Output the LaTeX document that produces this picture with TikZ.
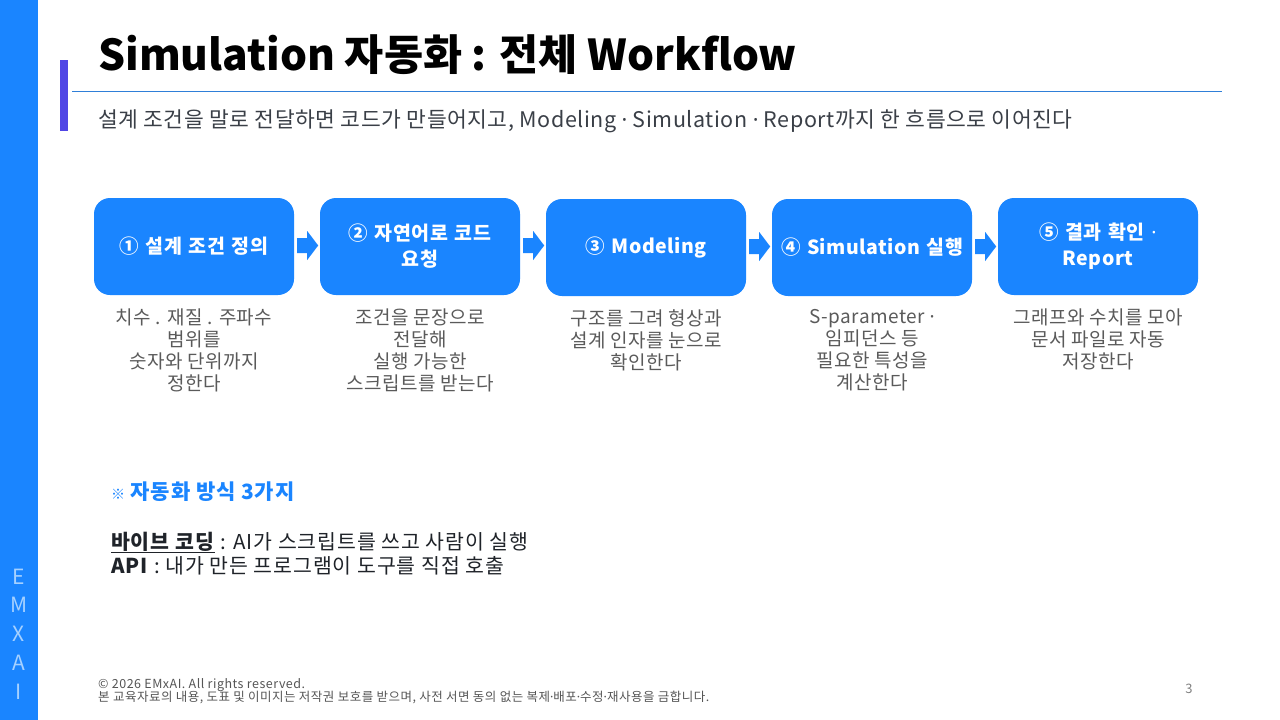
\documentclass[tikz,border=0pt]{standalone}
\usepackage{fontspec}
\setmainfont{Noto Sans CJK KR}
\newfontfamily\dotfont{Noto Sans}
\newcommand{\mdot}{{\dotfont ·}}
\usetikzlibrary{calc}
\definecolor{mainblue}{HTML}{1A85FF}
\definecolor{sidetext}{HTML}{A6D1FF}
\definecolor{accent}{HTML}{5046E5}
\definecolor{rulec}{HTML}{2F7FD8}
\definecolor{subgray}{HTML}{3A3F47}
\definecolor{descgray}{HTML}{5A5A5A}
\definecolor{darktext}{HTML}{1F2329}
\definecolor{footgray}{HTML}{555555}
\tikzset{
  stepbox/.style={fill=mainblue, rounded corners=16pt, minimum width=200pt, minimum height=97pt,
    text=white, font=\fontsize{19.5}{26}\selectfont\bfseries\addfontfeature{LetterSpace=2.5}, align=center, text width=192pt, inner sep=0pt},
  desc/.style={text=descgray, font=\fontsize{19}{22}\selectfont\addfontfeature{LetterSpace=2.5}, align=center, anchor=north, inner sep=0pt},
  flowarrow/.style={fill=mainblue},
  side/.style={text=sidetext, font=\fontsize{21}{21}\selectfont},
}
\begin{document}
\begin{tikzpicture}[x=1pt,y=-1pt]
\useasboundingbox (0,0) rectangle (1280,720);
\fill[white] (0,0) rectangle (1280,720);
% side bar
\fill[mainblue] (0,0) rectangle (38,720);
\foreach \ch/\yy in {E/577,M/605,X/634,A/663,I/692}{
  \node[side] (s\ch) at (19,\yy) {\ch};
}
% accent bar
\fill[accent] (60,60) rectangle (68,131);
% title
\node[anchor=base west, inner sep=0pt, font=\fontsize{42.5}{42.5}\selectfont\bfseries] (title) at (98,70) {Simulation 자동화 : 전체 Workflow};
\draw[rulec, line width=1pt] (72,91) -- (1222,91);
\node[anchor=base west, inner sep=0pt, text=subgray, font=\fontsize{21.5}{21.5}\selectfont\addfontfeature{LetterSpace=2.5}] (sub) at (98,127)
  {설계 조건을 말로 전달하면 코드가 만들어지고, Modeling \mdot{} Simulation \mdot{} Report까지 한 흐름으로 이어진다};
% boxes
\node[stepbox] (b1) at (194,246.5) {① 설계 조건 정의};
\node[stepbox] (b2) at (420,246.5) {② 자연어로 코드\\요청};
\node[stepbox] (b3) at (646,247.5) {③ Modeling};
\node[stepbox] (b4) at (872,247.5) {④ Simulation 실행};
\node[stepbox] (b5) at (1098,246.5) {⑤ 결과 확인 \mdot\\Report};
% arrows
\foreach \a in {b1,b2,b3,b4}{
  \fill[flowarrow] ($(\a.east)+(0,-1)$) ++(3,-7.5) -- ++(10,0) -- ++(0,-7) -- ++(11,14.5) -- ++(-11,14.5) -- ++(0,-7) -- ++(-10,0) -- cycle;
}
% descriptions
\node[desc] (d1) at (194,309) {치수 . 재질 . 주파수\\범위를\\숫자와 단위까지\\정한다};
\node[desc] (d2) at (420,309) {조건을 문장으로\\전달해\\실행 가능한\\스크립트를 받는다};
\node[desc] (d3) at (646,309) {구조를 그려 형상과\\설계 인자를 눈으로\\확인한다};
\node[desc] (d4) at (872,309) {S-parameter \mdot\\임피던스 등\\필요한 특성을\\계산한다};
\node[desc] (d5) at (1098,309) {그래프와 수치를 모아\\문서 파일로 자동\\저장한다};
% methods
\node[anchor=base west, inner sep=0pt, text=mainblue, font=\fontsize{21}{21}\selectfont\bfseries\addfontfeature{LetterSpace=4}] (mhead) at (111,499) {{\fontsize{14}{14}\selectfont ※} 자동화 방식 3가지};
\node[anchor=base west, inner sep=0pt, text=darktext, font=\fontsize{20.5}{20.5}\selectfont\addfontfeature{LetterSpace=4.5}] (m1) at (111,549)
  {\underline{\textbf{바이브 코딩}} : AI가 스크립트를 쓰고 사람이 실행};
\node[anchor=base west, inner sep=0pt, text=darktext, font=\fontsize{20.5}{20.5}\selectfont\addfontfeature{LetterSpace=4.5}] (m2) at (111,573)
  {\textbf{API} : 내가 만든 프로그램이 도구를 직접 호출};
% footer
\node[anchor=base west, inner sep=0pt, text=footgray, font=\fontsize{12.5}{12.5}\selectfont\addfontfeature{LetterSpace=4}] (f1) at (98,688) {© 2026 EMxAI. All rights reserved.};
\node[anchor=base west, inner sep=0pt, text=footgray, font=\fontsize{12.5}{12.5}\selectfont\addfontfeature{LetterSpace=4}] (f2) at (98,701) {본 교육자료의 내용, 도표 및 이미지는 저작권 보호를 받으며, 사전 서면 동의 없는 복제\mdot 배포\mdot 수정\mdot 재사용을 금합니다.};
\node[anchor=base, inner sep=0pt, text=gray, font=\fontsize{13}{13}\selectfont] (pg) at (1189,693) {3};
\end{tikzpicture}
\end{document}
